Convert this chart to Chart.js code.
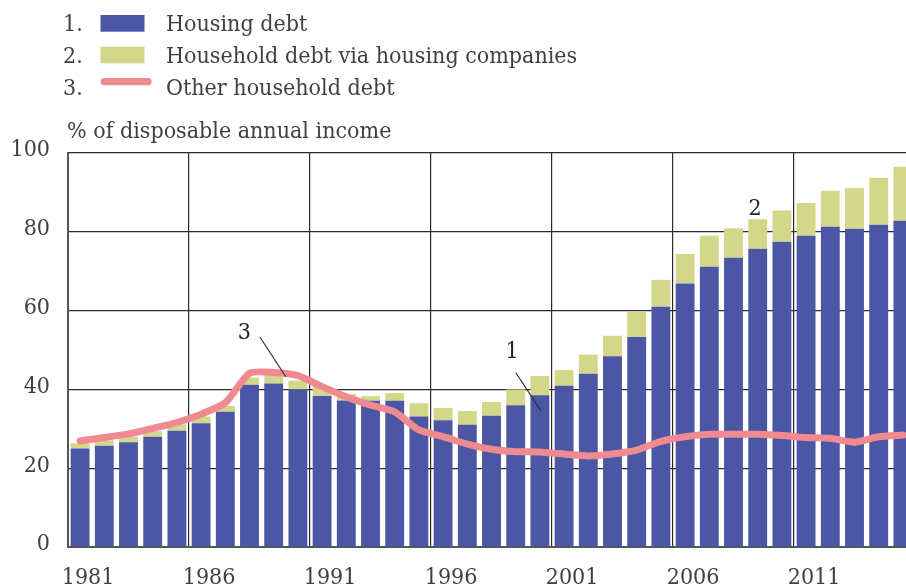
<!DOCTYPE html>
<html>
<head>
<meta charset="utf-8">
<title>Household debt</title>
<script src="https://cdn.jsdelivr.net/npm/chart.js@4.4.1/dist/chart.umd.min.js"></script>
<style>
  html, body { margin: 0; padding: 0; background: #fff; overflow: hidden; }
  #wrap { width: 906px; height: 588px; overflow: hidden; }
  canvas { display: block; }
</style>
</head>
<body>
<div id="wrap"><canvas id="debtChart" width="915" height="588"></canvas></div>
<script>
// --- data ---
const years = ['1981', '1982', '1983', '1984', '1985', '1986', '1987', '1988', '1989', '1990',
  '1991', '1992', '1993', '1994', '1995', '1996', '1997', '1998', '1999', '2000',
  '2001', '2002', '2003', '2004', '2005', '2006', '2007', '2008', '2009', '2010',
  '2011', '2012', '2013', '2014', '2015'];

const housingDebt = [25.0, 25.7, 26.6, 28.0, 29.5, 31.4, 34.3, 41.2, 41.5, 40.0,
  38.3, 37.2, 37.1, 37.1, 33.1, 32.2, 31.0, 33.3, 36.0, 38.5,
  40.9, 44.0, 48.4, 53.3, 61.0, 66.9, 71.1, 73.4, 75.7, 77.5,
  79.0, 81.3, 80.8, 81.8, 82.8];

const housingCompanyDebt = [1.3, 1.4, 1.4, 1.4, 1.6, 1.7, 1.5, 1.8, 2.3, 2.2,
  2.4, 1.6, 1.2, 2.0, 3.4, 3.1, 3.5, 3.5, 4.0, 4.9,
  4.0, 4.8, 5.2, 6.4, 6.8, 7.5, 7.9, 7.5, 7.5, 7.9,
  8.3, 9.1, 10.3, 11.9, 13.7];

const otherDebt = [26.9, 27.8, 28.7, 30.1, 31.6, 33.7, 36.6, 44.1, 44.3, 43.5,
  40.7, 38.1, 36.0, 34.3, 29.7, 28.0, 26.1, 24.8, 24.2, 24.1,
  23.6, 23.1, 23.6, 24.6, 26.8, 28.0, 28.6, 28.6, 28.6, 28.3,
  27.8, 27.6, 26.6, 28.0, 28.4];

const seriesNames = ['Housing debt', 'Household debt via housing companies', 'Other household debt'];
const yTicks = [0, 20, 40, 60, 80, 100];
const yTitle = '% of disposable annual income';

// callout labels: [text, category position, value] and leader lines [from idx, from val, to idx, to val]
const callouts = [
  ['1', 17.85, 49.5, [18.0, 44.3, 19.05, 34.5]],
  ['2', 27.89, 85.8, null],
  ['3', 6.79, 54.3, [7.43, 53.3, 8.5, 43.2]]
];

// --- styles ---
const BLUE = '#4b56a5';
const GREEN = '#d3d78a';
const PINK = '#ef8a90';
const TEXT = '#404040';
const GRID = '#2b2b2b';
const AXIS = '#555555';
const FAMILY = '"DejaVu Serif Condensed", "DejaVu Serif", serif';
const FONT = { family: FAMILY, size: 23 };

// legend, y title and callouts drawn on the canvas
const decorPlugin = {
  id: 'decor',
  afterDatasetsDraw(chart) {
    const { ctx, chartArea, scales } = chart;
    const xs = scales.x, ys = scales.y;
    const x0 = xs.getPixelForValue(0);
    const step = xs.getPixelForValue(1) - x0;
    const px = i => x0 + i * step;

    ctx.save();
    ctx.font = '23px ' + FAMILY;
    ctx.fillStyle = TEXT;
    ctx.textBaseline = 'alphabetic';

    // legend
    const colors = [BLUE, GREEN, PINK];
    seriesNames.forEach((name, i) => {
      const base = 31.3 + i * 31.6;
      ctx.fillStyle = TEXT;
      ctx.textAlign = 'left';
      ctx.fillText((i + 1) + '.', 63, base);
      ctx.fillText(name, 166, base);
      if (i < 2) {
        ctx.fillStyle = colors[i];
        ctx.fillRect(100.5, base - 16.3, 44, 16.7);
      } else {
        ctx.strokeStyle = colors[i];
        ctx.lineWidth = 7.3;
        ctx.lineCap = 'round';
        ctx.beginPath();
        ctx.moveTo(104.3, base - 12.8);
        ctx.lineTo(148, base - 12.8);
        ctx.stroke();
      }
    });

    // y axis title
    ctx.fillStyle = TEXT;
    ctx.fillText(yTitle, chartArea.left - 1, chartArea.top - 15);

    // callouts
    ctx.textAlign = 'center';
    ctx.textBaseline = 'middle';
    callouts.forEach(([txt, i, v, lead]) => {
      ctx.fillStyle = '#222';
      ctx.fillText(txt, px(i), ys.getPixelForValue(v));
      if (lead) {
        ctx.strokeStyle = '#333';
        ctx.lineWidth = 1.2;
        ctx.lineCap = 'butt';
        ctx.beginPath();
        ctx.moveTo(px(lead[0]), ys.getPixelForValue(lead[1]));
        ctx.lineTo(px(lead[2]), ys.getPixelForValue(lead[3]));
        ctx.stroke();
      }
    });
    ctx.restore();
  }
};

const ctx = document.getElementById('debtChart').getContext('2d');

window.debtChart = new Chart(ctx, {
  type: 'bar',
  data: {
    labels: years,
    datasets: [
      {
        type: 'line',
        label: seriesNames[2],
        data: otherDebt,
        borderColor: PINK,
        borderWidth: 7,
        pointRadius: 0,
        tension: 0.2,
        borderCapStyle: 'round',
        borderJoinStyle: 'round',
        stack: 'other',
        order: 0
      },
      {
        label: seriesNames[0],
        data: housingDebt,
        backgroundColor: BLUE,
        stack: 'bars',
        order: 1,
        barPercentage: 0.78,
        categoryPercentage: 1
      },
      {
        label: seriesNames[1],
        data: housingCompanyDebt,
        backgroundColor: GREEN,
        stack: 'bars',
        order: 1,
        barPercentage: 0.78,
        categoryPercentage: 1
      }
    ]
  },
  options: {
    responsive: false,
    animation: false,
    layout: { padding: { top: 153, left: 0, right: 0, bottom: 0 } },
    plugins: {
      legend: { display: false },
      tooltip: { enabled: false }
    },
    scales: {
      x: {
        stacked: true,
        offset: true,
        grid: {
          offset: true,
          drawTicks: false,
          lineWidth: 1.2,
          color: c => (c.index % 5 === 0 ? GRID : 'rgba(0,0,0,0)')
        },
        border: { color: AXIS, width: 2 },
        ticks: {
          autoSkip: false,
          maxRotation: 0,
          padding: 17,
          labelOffset: 8,
          color: TEXT,
          font: FONT,
          callback: (v, i) => (i % 5 === 0 ? years[i] : '')
        },
        afterFit: s => {
          s.height = 41;
          s.paddingLeft = 0;
          s.paddingRight = 0;
        }
      },
      y: {
        stacked: true,
        min: yTicks[0],
        max: yTicks[yTicks.length - 1],
        afterBuildTicks: s => { s.ticks = yTicks.map(v => ({ value: v })); },
        grid: { drawTicks: false, color: GRID, lineWidth: 1.2 },
        border: { color: AXIS, width: 2 },
        ticks: {
          padding: 18,
          labelOffset: -2.5,
          color: TEXT,
          font: FONT
        },
        afterFit: s => { s.width = 68; }
      }
    }
  },
  plugins: [decorPlugin]
});
</script>
</body>
</html>
